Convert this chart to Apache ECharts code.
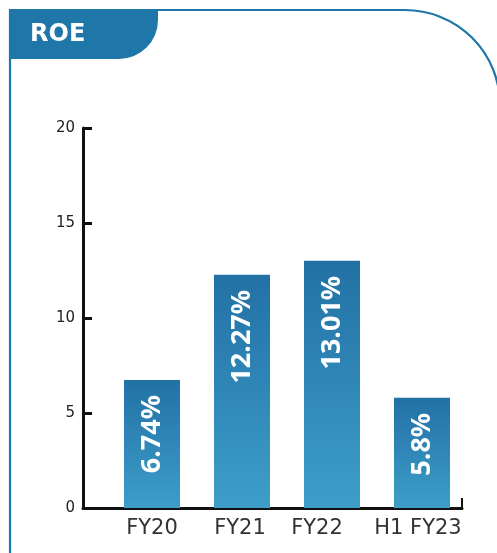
<!DOCTYPE html>
<html>
<head>
<meta charset="utf-8">
<script src="https://cdn.jsdelivr.net/npm/echarts@6/dist/echarts.min.js"></script>
<style>
  html, body { margin: 0; padding: 0; background: #ffffff; }
  #chart { width: 497px; height: 553px; }
</style>
</head>
<body>
<div id="chart"></div>
<script>
// ROE by period
const categories = ['FY20', 'FY21', 'FY22', 'H1 FY23'];
const roeValues = [6.74, 12.27, 13.01, 5.8];
const yTicks = { min: 0, max: 20, interval: 5 };

const frameBlue = '#1f76a8';
const labelNudge = [0, -2, -15, -4]; // small horizontal offsets for the period labels

const chart = echarts.init(document.getElementById('chart'), null, { renderer: 'canvas' });

chart.setOption({
  animation: false,
  backgroundColor: '#ffffff',
  graphic: [
    // panel outline: left edge, top edge and rounded top-right corner
    {
      type: 'polyline',
      shape: { points: [[10, 560], [10, 10], [405, 10]] },
      style: { fill: null, stroke: frameBlue, lineWidth: 2.2 }
    },
    {
      type: 'arc',
      shape: { cx: 405, cy: 105, r: 95, startAngle: -Math.PI / 2, endAngle: 0, clockwise: true },
      style: { fill: null, stroke: frameBlue, lineWidth: 2.2 }
    },
    // title tab
    {
      type: 'rect',
      shape: { x: 9, y: 9, width: 149, height: 50, r: [0, 0, 39, 0] },
      style: { fill: frameBlue }
    },
    {
      type: 'text',
      style: {
        x: 30,
        y: 35,
        text: 'ROE',
        fill: '#ffffff',
        verticalAlign: 'middle',
        font: 'bold 24px "DejaVu Sans", sans-serif'
      }
    }
  ],
  grid: [
    { left: 83, right: 35, top: 128, bottom: 45 },
    { left: 107, right: 30, top: 128, bottom: 45 }
  ],
  xAxis: [
    {
      gridIndex: 0,
      type: 'value',
      min: 0, max: 1, interval: 1,
      axisLine: { show: true, lineStyle: { color: '#111', width: 3 } },
      axisTick: { show: true, inside: true, length: 10, lineStyle: { color: '#111', width: 2 } },
      axisLabel: { show: false },
      splitLine: { show: false }
    },
    {
      gridIndex: 1,
      type: 'category',
      data: categories,
      axisLine: { show: false },
      axisTick: { show: false },
      axisLabel: {
        margin: 10,
        formatter: function (v, i) { return '{l' + i + '|' + v + '}'; },
        rich: (function () {
          const r = {};
          labelNudge.forEach(function (d, i) {
            r['l' + i] = {
              fontSize: 21,
              color: '#333333',
              fontFamily: '"DejaVu Sans", sans-serif',
              padding: d < 0 ? [0, -2 * d, 0, 0] : [0, 0, 0, 2 * d]
            };
          });
          return r;
        })()
      }
    }
  ],
  yAxis: [
    {
      gridIndex: 0,
      type: 'value',
      min: yTicks.min, max: yTicks.max, interval: yTicks.interval,
      axisLine: { show: true, lineStyle: { color: '#111', width: 3 } },
      axisTick: { show: true, inside: true, length: 9, lineStyle: { color: '#111', width: 3 } },
      axisLabel: { margin: 8, fontSize: 15, color: '#222222', fontFamily: '"DejaVu Sans", sans-serif' },
      splitLine: { show: false }
    },
    {
      gridIndex: 1,
      type: 'value',
      min: yTicks.min, max: yTicks.max, interval: yTicks.interval,
      show: false,
      splitLine: { show: false }
    }
  ],
  series: [
    {
      type: 'bar',
      xAxisIndex: 1,
      yAxisIndex: 1,
      data: roeValues,
      barWidth: 56,
      itemStyle: {
        color: {
          type: 'linear', x: 0, y: 0, x2: 0, y2: 1,
          colorStops: [
            { offset: 0, color: '#2271a5' },
            { offset: 1, color: '#3e9ec9' }
          ]
        }
      },
      label: {
        show: true,
        position: 'insideTop',
        rotate: 90,
        align: 'right',
        verticalAlign: 'middle',
        distance: 15,
        formatter: '{c}%',
        color: '#ffffff',
        fontSize: 27,
        fontWeight: 'bold',
        fontFamily: '"Noto Sans", sans-serif'
      }
    }
  ]
});
</script>
</body>
</html>
